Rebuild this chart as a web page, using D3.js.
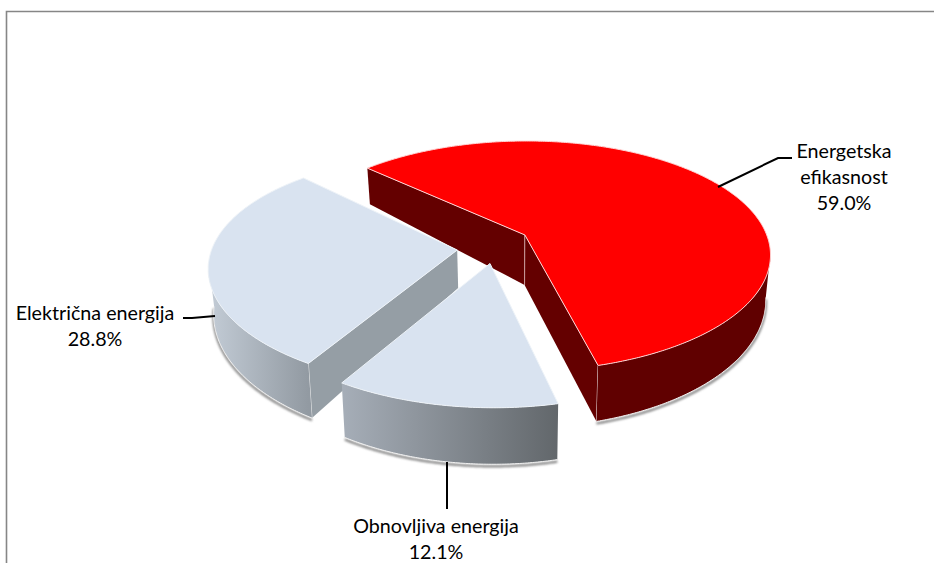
<!DOCTYPE html>
<html>
<head>
<meta charset="utf-8">
<script src="https://cdn.jsdelivr.net/npm/d3@7"></script>
<style>
    html, body { margin: 0; padding: 0; background: #fff; }
    svg { display: block; }
    text { font-family: Lato, "Open Sans", sans-serif; font-size: 19.7px; fill: #000; }
</style>
</head>
<body>
<div id="dis"></div>
<script>
var categories = ["Energetska efikasnost", "Obnovljiva energija", "Električna energija"];
var values = [59.0, 12.1, 28.8];
var labelLines = [["Energetska", "efikasnost"], ["Obnovljiva energija"], ["Električna energija"]];

var width = 934;
var height = 563;
var rad = Math.PI / 180;

var svg = d3.select("#dis").append("svg")
    .attr("width", width)
    .attr("height", height)
    .attr("viewBox", [0, 0, width, height]);

var defs = svg.append("defs");
defs.append("filter")
    .attr("id", "soft")
    .attr("x", "-10%").attr("y", "-20%").attr("width", "120%").attr("height", "140%")
    .append("feGaussianBlur")
    .attr("stdDeviation", 1.3);

// frame, only top and left show in the crop
svg.append("path")
    .attr("d", "M6.5 563V11.5H934")
    .attr("fill", "none")
    .attr("stroke", "#868686")
    .attr("stroke-width", 1.6);

// 3d look of every slice: ellipse placement per slice (exploded + perspective skew)
var views = [
    {ex: 524.5, ey: 256, a: 246, b: -2, c: 0, d: 115, apexDepth: 50, walls: ["start", "end"],
        top: "#ff0000", wall: "#640000", rim: ["#600000", "#600000"]},
    {ex: 488.6, ey: 285.8, a: 250, b: -7.5, c: 6.3, d: 121.8, apexDepth: 45, walls: [],
        top: "#d9e3f0", wall: "#959ea5", rim: ["#a6aeb8", "#62676b"]},
    {ex: 455.4, ey: 271.3, a: 247, b: -9.8, c: 6.9, d: 116.2, apexDepth: 38, walls: ["start"],
        top: "#d9e3f0", wall: "#959ea5", rim: ["#c3ccd6", "#929aa2"]}
];

var tilt = -0.183;
var tiltS = Math.sqrt(1 - tilt * tilt);

// circle angle -> position on the tilted unit disc
var disc = function(angle, r) {
    var x = r * Math.sin(angle);
    var y = -r * Math.cos(angle);
    var k = 1 + tilt * y;
    return {x: x * tiltS / k, y: (y + tilt) / k};
};
var topPoint = function(v, p) {
    return [v.ex + v.a * p.x + v.b * p.y, v.ey + v.c * p.x + v.d * p.y];
};
var bottomPoint = function(v, p, depth) {
    var t = topPoint(v, p);
    return [t[0] + 0.018 * (510 - t[0]), t[1] + (depth === undefined ? 45 + 11.5 * p.y : depth)];
};

var pie = d3.pie().sort(null).startAngle(-47.5 * rad).endAngle(312.5 * rad);
var arcs = pie(values);
var line = d3.line();

// back to front
var order = [0, 2, 1];

order.forEach(function(i) {
    var v = views[i];
    var arc = arcs[i];
    var g = svg.append("g");
    var angles = d3.range(arc.startAngle, arc.endAngle, 0.5 * rad).concat([arc.endAngle]);
    var apex = disc(0, 0);

    // visible outer wall: only the near half of the rim
    var near = angles.map(a => disc(a, 1)).filter(p => p.y > -0.03);
    var rimTop = near.map(p => topPoint(v, p));
    var rimBottom = near.map(p => bottomPoint(v, p));

    g.append("path")
        .attr("d", line(rimBottom.map(p => [p[0], p[1] + 2])))
        .attr("fill", "none")
        .attr("stroke", "#8a8a8a")
        .attr("stroke-width", 2.5)
        .attr("filter", "url(#soft)");

    var gradId = "rim" + i;
    var grad = defs.append("linearGradient")
        .attr("id", gradId)
        .attr("gradientUnits", "userSpaceOnUse")
        .attr("x1", d3.min(rimTop, p => p[0]))
        .attr("x2", d3.max(rimTop, p => p[0]))
        .attr("y1", 0)
        .attr("y2", 0);
    grad.append("stop").attr("offset", "0%").attr("stop-color", v.rim[0]);
    grad.append("stop").attr("offset", "100%").attr("stop-color", v.rim[1]);

    // radial walls
    v.walls.forEach(function(w) {
        var p = disc(w === "start" ? arc.startAngle : arc.endAngle, 1);
        g.append("path")
            .attr("d", line([topPoint(v, apex), topPoint(v, p), bottomPoint(v, p), bottomPoint(v, apex, v.apexDepth)]) + "Z")
            .attr("fill", v.wall);
        g.append("path")
            .attr("d", line([topPoint(v, apex), bottomPoint(v, apex, v.apexDepth)]))
            .attr("stroke", "#e8c8c8")
            .attr("stroke-opacity", i === 0 ? 0.6 : 0)
            .attr("stroke-width", 1);
        g.append("path")
            .attr("d", line([topPoint(v, p), bottomPoint(v, p)]))
            .attr("stroke", "#f2f2f2")
            .attr("stroke-opacity", p.y > 0.5 ? 0.9 : 0)
            .attr("stroke-width", 1);
    });

    g.append("path")
        .attr("d", line(rimTop.concat(rimBottom.slice().reverse())) + "Z")
        .attr("fill", "url(#" + gradId + ")");
    g.append("path")
        .attr("d", line(rimBottom))
        .attr("fill", "none")
        .attr("stroke", "#f0f0f0")
        .attr("stroke-width", 1);

    // top face
    var face = [topPoint(v, apex)].concat(angles.map(a => topPoint(v, disc(a, 1))));
    g.append("path")
        .attr("d", line(face) + "Z")
        .attr("fill", v.top)
        .attr("stroke", i === 0 ? "#ffd6d6" : "#eef3f8")
        .attr("stroke-width", 1)
        .attr("stroke-linejoin", "round");
});

// leader lines and labels
var leaders = [
    [[718, 187], [778, 158], [792, 158]],
    [[447, 462], [447, 509]],
    [[215, 316], [192, 318], [183, 318]]
];
var labelPos = [[844, 158], [436, 533], [95, 320]];

svg.append("g")
    .selectAll("path")
    .data(leaders)
    .join("path")
    .attr("d", d => line(d))
    .attr("fill", "none")
    .attr("stroke", "#000")
    .attr("stroke-width", 2);

var labels = svg.append("g")
    .selectAll("text")
    .data(categories)
    .join("text")
    .attr("text-anchor", "middle")
    .attr("transform", (d, i) => "translate(" + labelPos[i] + ")");

labels.selectAll("tspan")
    .data((d, i) => labelLines[i].concat([values[i].toFixed(1) + "%"]))
    .join("tspan")
    .attr("x", 0)
    .attr("y", (d, j) => j * 26)
    .text(d => d);
</script>
</body>
</html>
